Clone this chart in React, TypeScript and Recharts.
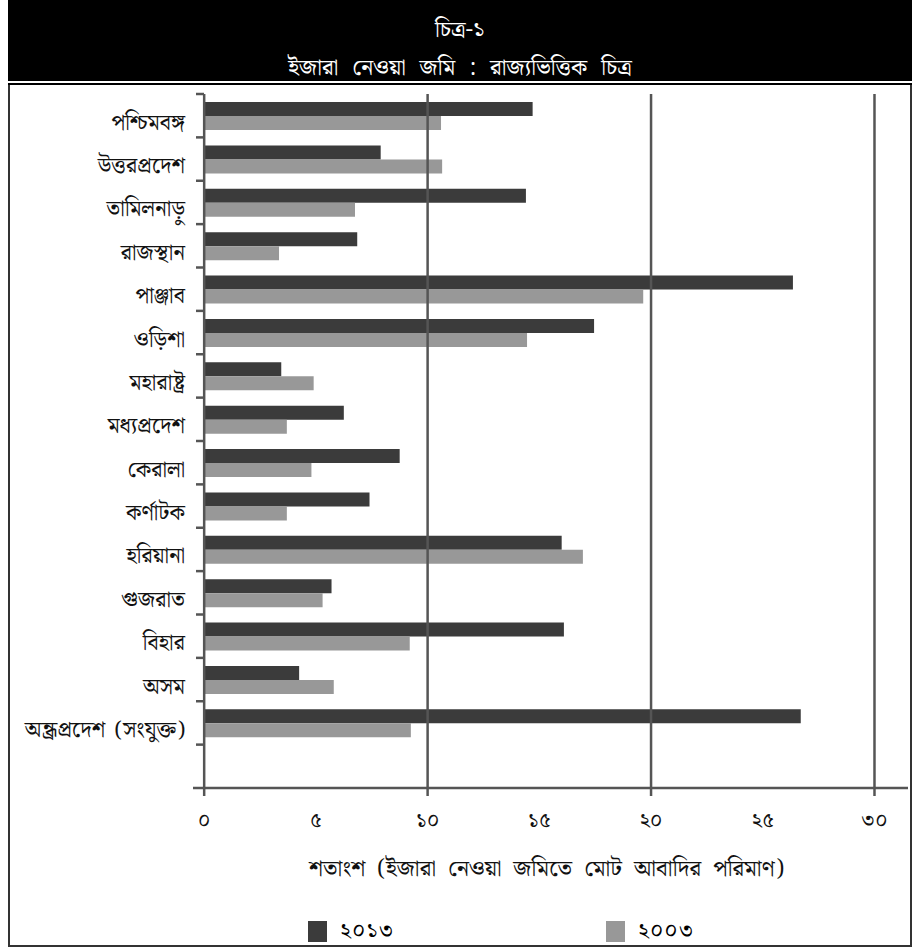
import { Bar, BarChart, ReferenceLine, XAxis, YAxis } from "recharts"

const states = [
  "পশ্চিমবঙ্গ",
  "উত্তরপ্রদেশ",
  "তামিলনাড়ু",
  "রাজস্থান",
  "পাঞ্জাব",
  "ওড়িশা",
  "মহারাষ্ট্র",
  "মধ্যপ্রদেশ",
  "কেরালা",
  "কর্ণাটক",
  "হরিয়ানা",
  "গুজরাত",
  "বিহার",
  "অসম",
  "অন্ধ্রপ্রদেশ (সংযুক্ত)",
  "",
]
const share2013 = [14.7, 7.9, 14.4, 6.85, 26.35, 17.45, 3.45, 6.25, 8.75, 7.4, 16.0, 5.7, 16.1, 4.25, 26.7, null]
const share2003 = [10.6, 10.65, 6.75, 3.35, 19.65, 14.45, 4.9, 3.7, 4.8, 3.7, 16.95, 5.3, 9.2, 5.8, 9.25, null]
const xTicks = [0, 5, 10, 15, 20, 25, 30]
const xTickLabels = ["০", "৫", "১০", "১৫", "২০", "২৫", "৩০"]
const gridValues = [10, 20, 30]
const seriesNames = ["২০১৩", "২০০৩"]

const data = states.map((state, i) => ({ state, y2013: share2013[i], y2003: share2003[i] }))

const FONT = "'Noto Serif Bengali', 'Noto Sans Bengali', 'Lohit Bengali', FreeSerif, serif"
const DARK = "#3b3b3b"
const LIGHT = "#989898"
const AXIS = "#555"

function StateTick({ x, y, payload }: any) {
  const half = payload?.offset || 21.7
  return (
    <g>
      <line x1={x + 3} x2={x + 11} y1={y - half} y2={y - half} stroke={AXIS} strokeWidth={2.5} />
      <text
        x={x - 8}
        y={y}
        dy={14}
        textAnchor="end"
        fontSize={22}
        fill="#111"
        fontFamily={FONT}
        style={{ wordSpacing: 4 }}
      >
        {payload.value}
      </text>
    </g>
  )
}

function NumberTick({ x, y, payload }: any) {
  const idx = xTicks.indexOf(payload.value)
  return (
    <g>
      {payload.value % 10 === 0 && (
        <line x1={x} x2={x} y1={y} y2={y + 8} stroke={AXIS} strokeWidth={2.5} />
      )}
      <text x={x} y={y + 39} textAnchor="middle" fontSize={21} fill="#111" fontFamily={FONT}>
        {xTickLabels[idx]}
      </text>
    </g>
  )
}

function AxisTitle({ viewBox }: any) {
  return (
    <text
      x={viewBox.x + viewBox.width / 2 - 4}
      y={viewBox.y + 88}
      textAnchor="middle"
      fontSize={23}
      fill="#111"
      fontFamily={FONT}
      style={{ wordSpacing: 6 }}
    >
      শতাংশ (ইজারা নেওয়া জমিতে মোট আবাদির পরিমাণ)
    </text>
  )
}

const titleLine = {
  position: "absolute" as const,
  left: 0,
  width: 904,
  textAlign: "center" as const,
  color: "#fff",
  fontSize: 23,
  lineHeight: "26px",
  wordSpacing: 8,
}

export default function App() {
  return (
    <div style={{ position: "absolute", left: 8, top: 0, width: 904, height: 947, background: "#fff", fontFamily: FONT }}>
      <div style={{ position: "absolute", top: 0, left: 0, width: 904, height: 81, background: "#000" }} />
      <div style={{ ...titleLine, top: 18 }}>চিত্র-১</div>
      <div style={{ ...titleLine, top: 56 }}>ইজারা নেওয়া জমি : রাজ্যভিত্তিক চিত্র</div>
      <div style={{ position: "absolute", top: 83, left: 0, width: 904, height: 2, background: "#000" }} />
      <div
        style={{
          position: "absolute",
          top: 85,
          left: 0,
          width: 904,
          height: 862,
          borderLeft: "2px solid #333",
          borderRight: "2px solid #333",
          borderBottom: "2px solid #333",
          boxSizing: "border-box",
        }}
      />
      <div style={{ position: "absolute", top: 84, left: 0 }}>
        <BarChart
          width={904}
          height={862}
          data={data}
          layout="vertical"
          margin={{ top: 10, right: 4, bottom: 0, left: 0 }}
          barGap={0}
          barSize={14}
        >
          <XAxis
            type="number"
            domain={[-0.5, 31.5]}
            ticks={xTicks}
            interval={0}
            tickSize={0}
            tickMargin={0}
            tickLine={false}
            axisLine={{ stroke: AXIS, strokeWidth: 2.5 }}
            tick={<NumberTick />}
            height={158}
            label={<AxisTitle />}
          />
          <YAxis
            type="category"
            dataKey="state"
            width={185}
            interval={0}
            tickSize={0}
            tickMargin={0}
            tickLine={false}
            axisLine={false}
            tick={<StateTick />}
          />
          {gridValues.map((v) => (
            <ReferenceLine key={v} x={v} stroke={AXIS} strokeWidth={2.5} />
          ))}
          <ReferenceLine x={0} stroke={AXIS} strokeWidth={2.5} />
          <Bar dataKey="y2013" name={seriesNames[0]} fill={DARK} isAnimationActive={false} />
          <Bar dataKey="y2003" name={seriesNames[1]} fill={LIGHT} isAnimationActive={false} />
        </BarChart>
      </div>
      <div style={{ position: "absolute", top: 921, left: 300, height: 21, display: "flex", alignItems: "center", fontSize: 22 }}>
        <span style={{ width: 19, height: 21, background: DARK, display: "inline-block", marginRight: 13 }} />
        <span style={{ letterSpacing: 1 }}>{seriesNames[0]}</span>
      </div>
      <div style={{ position: "absolute", top: 921, left: 598, height: 21, display: "flex", alignItems: "center", fontSize: 22 }}>
        <span style={{ width: 19, height: 21, background: LIGHT, display: "inline-block", marginRight: 13 }} />
        <span style={{ letterSpacing: 1 }}>{seriesNames[1]}</span>
      </div>
    </div>
  )
}
